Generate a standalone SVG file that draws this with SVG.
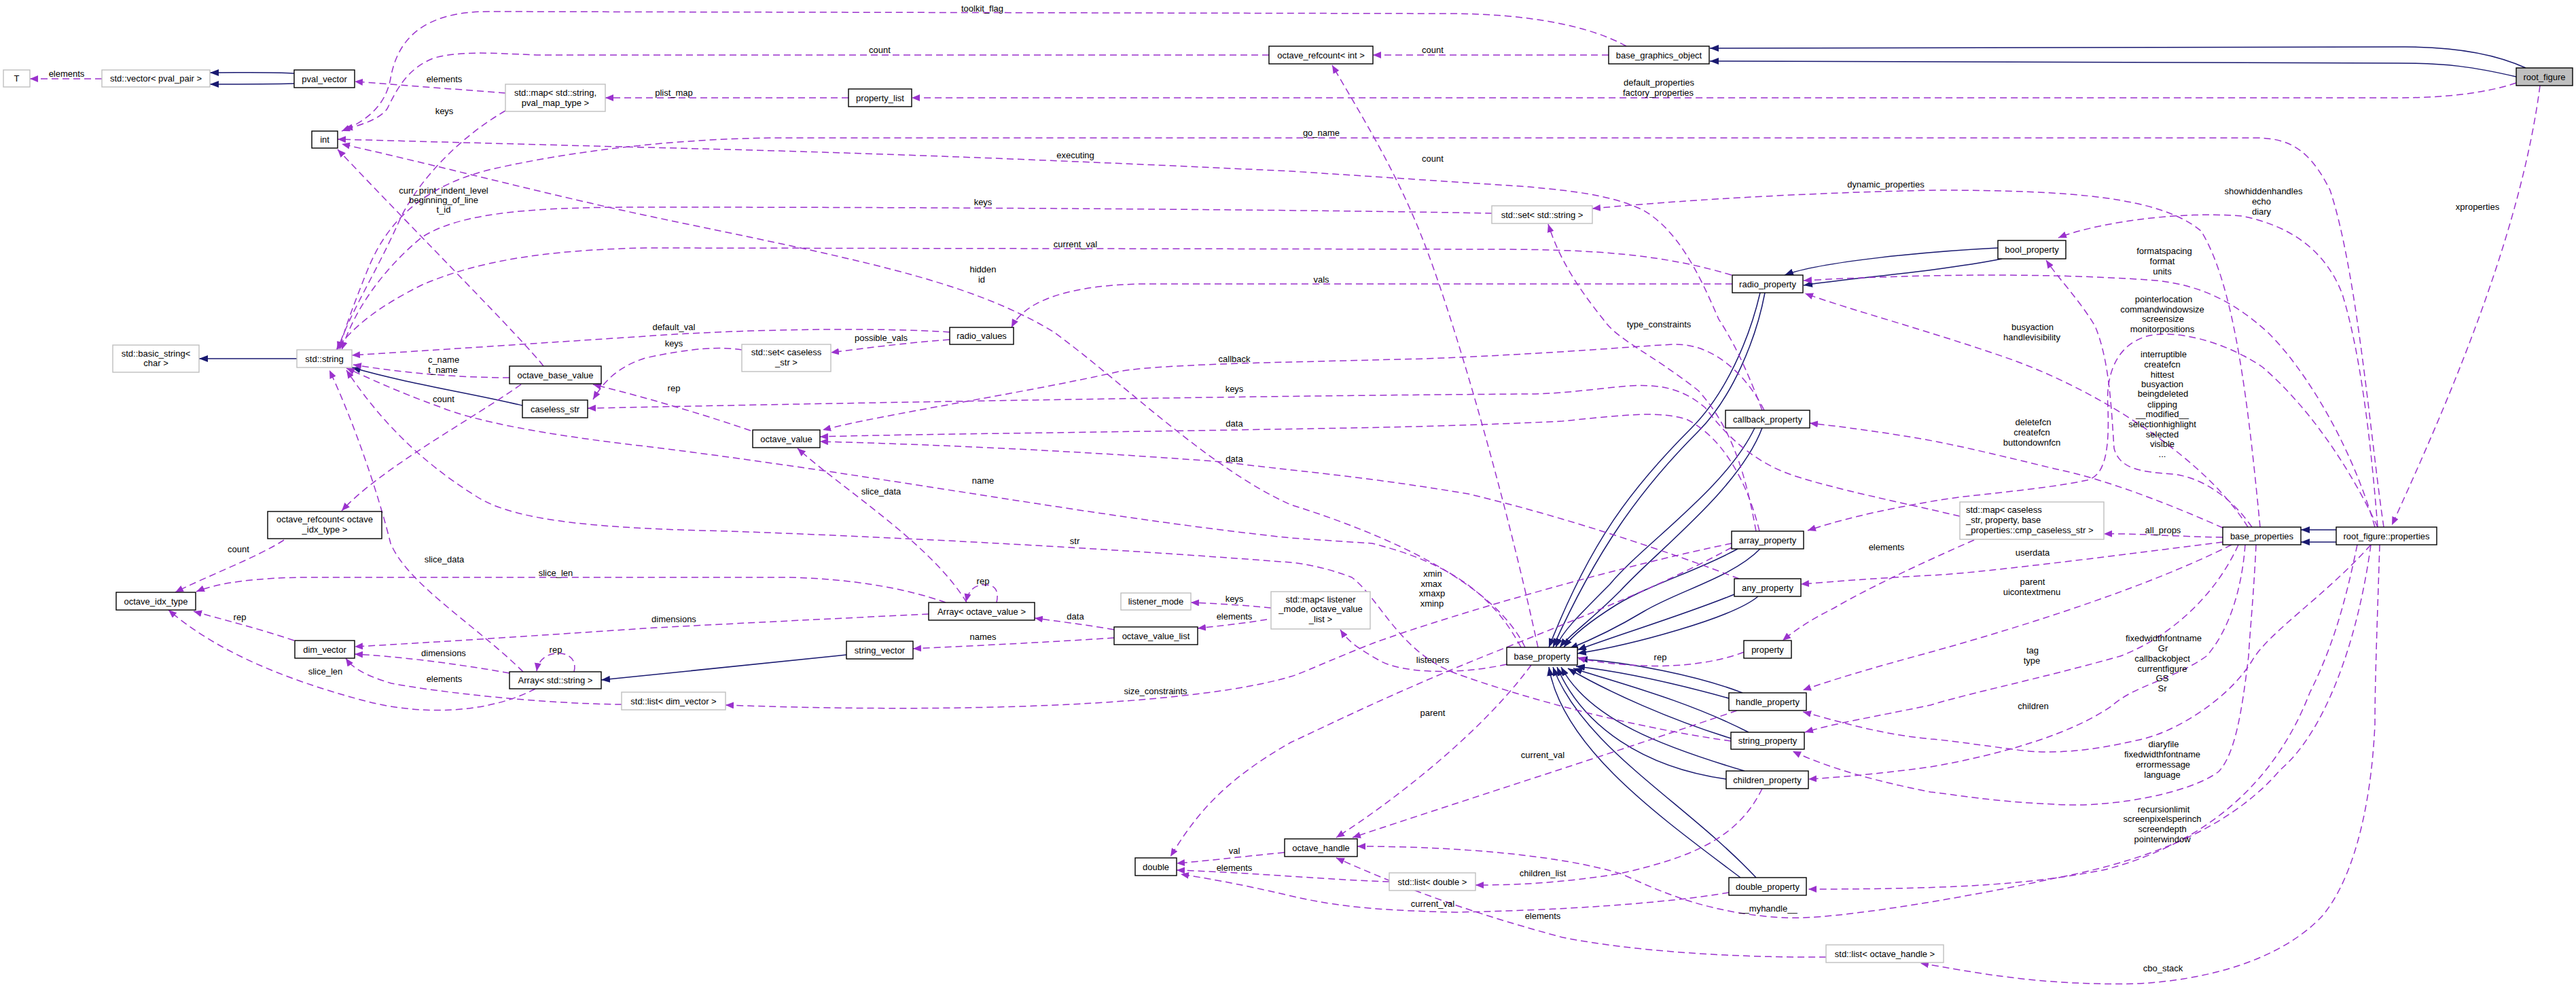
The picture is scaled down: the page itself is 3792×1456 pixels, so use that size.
<svg xmlns="http://www.w3.org/2000/svg" width="3792" height="1456" viewBox="0 0 3792 1456">
<style>
.n rect{fill:#fff;stroke:#000;stroke-width:1.4}
.g rect{fill:#fff;stroke:#bfbfbf;stroke-width:1.4}
text{font-family:"Liberation Sans",Arial,sans-serif;font-size:13px;fill:#000}
.n text,.g text,.lb text{text-anchor:middle}
.u{fill:none;stroke:#9a32cd;stroke-width:1.5;stroke-dasharray:10,6;marker-end:url(#pa)}
.i{fill:none;stroke:#191970;stroke-width:1.5;marker-end:url(#na)}
</style>
<defs>
<marker id="pa" viewBox="0 0 12 10" refX="12" refY="5" markerWidth="12" markerHeight="10" orient="auto" markerUnits="userSpaceOnUse"><path d="M0,0 L12,5 L0,10 z" fill="#9a32cd"/></marker>
<marker id="na" viewBox="0 0 13 10" refX="13" refY="5" markerWidth="13" markerHeight="10" orient="auto" markerUnits="userSpaceOnUse"><path d="M0,0 L13,5 L0,10 z" fill="#191970"/></marker>
</defs>
<rect width="3792" height="1456" fill="#fff"/>
<g id="connectors">
<path class="i" d="M3718,100 C3670,78 3610,69 3540,69 L2517,71"/>
<path class="i" d="M3704,113 C3640,98 3600,93 3530,93 L2517,90"/>
<path class="i" d="M433,108 C400,106 360,107 309,107"/>
<path class="i" d="M433,123 C400,124 360,124 309,124"/>
<path class="i" d="M437,528 L293,528"/>
<path class="i" d="M769,597 C700,580 600,565 518,541"/>
<path class="i" d="M1246,964 C1100,980 950,995 885,1001"/>
<path class="i" d="M2941,365 C2840,370 2680,385 2627,405"/>
<path class="i" d="M2947,381 C2850,400 2720,410 2655,420"/>
<path class="i" d="M2591,431 C2575,500 2540,580 2490,630 C2400,720 2340,800 2280,953"/>
<path class="i" d="M2598,431 C2585,500 2550,585 2500,635 C2415,720 2350,810 2286,953"/>
<path class="i" d="M2583,630 C2540,720 2420,800 2370,860 C2320,910 2300,930 2290,953"/>
<path class="i" d="M2594,630 C2560,720 2440,810 2385,870 C2340,915 2310,935 2296,953"/>
<path class="i" d="M2558,808 C2500,840 2430,860 2380,890 C2340,915 2315,935 2302,953"/>
<path class="i" d="M2591,808 C2550,850 2470,870 2420,900 C2370,930 2335,945 2310,955"/>
<path class="i" d="M2553,875 C2480,905 2380,935 2322,957"/>
<path class="i" d="M2588,878 C2550,910 2400,950 2322,962"/>
<path class="i" d="M2565,1020 C2500,995 2400,975 2324,970"/>
<path class="i" d="M2545,1028 C2480,1010 2400,990 2320,981"/>
<path class="i" d="M2574,1078 C2480,1030 2380,1005 2316,984"/>
<path class="i" d="M2548,1087 C2460,1060 2370,1020 2308,984"/>
<path class="i" d="M2568,1135 C2450,1100 2340,1060 2298,982"/>
<path class="i" d="M2541,1147 C2420,1130 2330,1070 2292,982"/>
<path class="i" d="M2585,1292 C2480,1180 2330,1100 2286,982"/>
<path class="i" d="M2562,1292 C2440,1200 2300,1100 2280,982"/>
<path class="i" d="M3439,780 L3387,780"/>
<path class="i" d="M3439,798 L3387,798"/>
<path class="u" d="M2394,68 C2340,38 2250,20 2130,20 L720,17 C620,17 585,60 575,115 C568,155 540,178 503,193"/>
<path class="u" d="M1868,81 L790,81 C720,78 680,75 640,85 C600,100 585,130 570,160 C560,175 530,185 507,190"/>
<path class="u" d="M2368,81 L2021,81"/>
<path class="u" d="M150,116 L44,116"/>
<path class="u" d="M744,137 L522,120"/>
<path class="u" d="M1249,144 L891,144"/>
<path class="u" d="M3704,122 C3660,137 3600,144 3530,144 L1342,144"/>
<path class="u" d="M744,163 C680,200 620,260 590,320 C555,400 515,460 497,515"/>
<path class="u" d="M3509,776 C3490,650 3470,400 3430,280 C3400,220 3370,203 3320,203 L1132,203 C1000,205 850,220 720,250 C600,280 560,350 540,400 C520,450 505,490 500,515"/>
<path class="u" d="M2594,604 C2570,540 2550,500 2530,470 C2500,400 2470,340 2420,310 C2370,285 2300,280 2250,275 L1900,252 C1600,238 1300,225 950,217 L497,205"/>
<path class="u" d="M2264,953 C2220,750 2150,500 2100,367 C2060,260 2010,180 1961,96"/>
<path class="u" d="M800,539 C770,500 620,350 497,220"/>
<path class="u" d="M3327,776 C3310,600 3290,420 3240,340 C3180,290 3050,280 2850,280 C2600,285 2420,300 2344,307"/>
<path class="u" d="M3500,776 C3490,650 3475,520 3448,433 C3420,360 3360,330 3300,318 C3200,310 3080,330 3030,350"/>
<path class="u" d="M2196,314 C2000,310 1500,305 950,305 C800,305 680,310 620,350 C560,400 520,460 503,515"/>
<path class="u" d="M2549,405 C2450,375 2350,367 2200,367 L950,365 C800,368 700,385 620,420 C560,450 520,480 495,515"/>
<path class="u" d="M3496,776 C3460,650 3390,540 3339,490 C3290,445 3240,420 3175,413 C3000,400 2800,405 2655,413"/>
<path class="u" d="M2245,953 C2200,860 2050,790 1900,743 C1780,690 1650,560 1550,488 C1420,410 1250,380 950,317 C800,285 650,245 503,212"/>
<path class="u" d="M2550,418 L1680,418 C1580,420 1510,440 1489,482"/>
<path class="u" d="M2585,782 C2570,700 2550,630 2500,575 C2430,520 2380,500 2360,470 C2320,420 2295,380 2279,330"/>
<path class="u" d="M1398,489 C1300,482 1100,484 950,495 C750,508 600,518 518,523"/>
<path class="u" d="M1398,500 C1330,505 1270,513 1223,519"/>
<path class="u" d="M1092,515 C1060,510 1020,512 950,527 C910,540 890,560 873,588"/>
<path class="u" d="M750,556 C680,556 600,550 520,537"/>
<path class="u" d="M1105,634 C1050,615 960,587 873,566"/>
<path class="u" d="M2885,760 C2800,740 2700,720 2640,700 C2580,680 2540,640 2510,600 C2480,575 2450,565 2400,568 C2350,572 2300,580 2250,580 C1900,582 1300,592 865,601"/>
<path class="u" d="M2597,604 C2570,550 2520,505 2464,507 C2400,510 2300,520 2100,528 L1900,533 C1800,535 1680,540 1647,547 C1500,580 1300,610 1211,633"/>
<path class="u" d="M2590,782 C2570,700 2530,640 2482,617 C2440,605 2400,610 2300,620 C2100,630 1900,631 1817,633 C1500,638 1300,640 1207,643"/>
<path class="u" d="M2560,852 C2450,810 2300,760 2161,727 C2000,700 1900,693 1800,680 C1600,665 1400,655 1207,650"/>
<path class="u" d="M2239,953 C2200,880 2140,830 2020,800 L1900,792 C1600,760 1300,700 950,657 C800,640 700,620 650,600 C580,575 540,555 510,542"/>
<path class="u" d="M2548,1091 C2400,1070 2250,1030 2142,991 C2060,960 2030,880 1990,850 C1950,835 1920,830 1900,828 C1600,805 1300,790 1071,782 C900,778 760,770 700,730 C620,680 560,620 510,545"/>
<path class="u" d="M1423,887 C1370,800 1240,720 1174,660"/>
<path class="u" d="M1467,887 C1472,865 1460,860 1447,861 C1432,862 1425,872 1422,886"/>
<path class="u" d="M1367,904 C1200,912 1000,922 950,925 C800,935 650,945 522,952"/>
<path class="u" d="M1392,887 C1330,865 1250,852 1162,850 L455,850 C380,850 320,858 289,871"/>
<path class="u" d="M788,1014 C720,1050 620,1055 530,1030 C420,1000 320,960 248,898"/>
<path class="u" d="M433,943 C380,925 320,910 285,900"/>
<path class="u" d="M418,795 C380,820 300,850 258,872"/>
<path class="u" d="M767,566 C690,620 560,690 503,752"/>
<path class="u" d="M750,991 C660,975 580,966 522,963"/>
<path class="u" d="M770,989 C700,920 600,860 575,800 C555,720 520,620 485,545"/>
<path class="u" d="M845,989 C850,970 835,960 818,962 C800,964 792,975 790,988"/>
<path class="u" d="M915,1037 C800,1036 650,1020 576,1006 C540,995 520,985 509,969"/>
<path class="u" d="M1640,939 C1550,945 1450,950 1344,955"/>
<path class="u" d="M1640,927 C1600,920 1560,915 1523,910"/>
<path class="u" d="M1871,895 C1820,890 1780,888 1753,887"/>
<path class="u" d="M1865,912 C1830,918 1790,922 1763,925"/>
<path class="u" d="M2218,978 C2140,995 2060,990 2030,972 C2000,955 1985,945 1973,927"/>
<path class="u" d="M2549,800 C2400,830 2150,900 2021,947 C1950,975 1920,990 1900,996 C1750,1040 1400,1050 1068,1038"/>
<path class="u" d="M2549,806 C2450,860 2350,900 2200,960 C2050,1020 1950,1070 1900,1093 C1800,1150 1760,1200 1723,1261"/>
<path class="u" d="M2567,960 C2520,978 2460,982 2420,980 C2370,978 2340,973 2322,968"/>
<path class="u" d="M2906,795 C2860,815 2760,860 2700,895 C2660,915 2640,930 2624,943"/>
<path class="u" d="M3272,791 C3200,790 3150,785 3097,786"/>
<path class="u" d="M3272,798 C3100,820 2900,845 2842,847 C2750,852 2700,856 2651,860"/>
<path class="u" d="M3309,776 C3250,680 3100,580 2963,530 C2850,490 2720,455 2657,432"/>
<path class="u" d="M3315,776 C3290,740 3250,705 3200,698 C3150,695 3120,690 3112,660 C3108,600 3105,530 3084,480 C3060,440 3030,410 3012,383"/>
<path class="u" d="M3500,776 C3460,690 3400,600 3330,540 C3270,500 3200,485 3160,495 C3110,510 3100,560 3103,600 C3105,660 3100,700 3072,707 C3000,722 2900,728 2850,737 C2760,752 2700,768 2661,781"/>
<path class="u" d="M3272,777 C3200,745 3100,705 3024,690 C2950,672 2900,660 2850,650 C2780,637 2710,628 2664,623"/>
<path class="u" d="M3285,802 C3150,870 2950,930 2842,960 C2750,985 2700,1000 2654,1016"/>
<path class="u" d="M3295,802 C3260,880 3190,940 3121,966 C3000,1000 2900,1020 2842,1038 C2760,1055 2700,1065 2657,1078"/>
<path class="u" d="M3305,802 C3300,870 3280,930 3248,966 C3200,1000 3140,1010 3109,1039 C3050,1080 2950,1110 2842,1129 C2760,1140 2700,1145 2662,1147"/>
<path class="u" d="M3490,802 C3420,880 3340,930 3315,973 C3280,1030 3200,1080 3145,1090 C3080,1105 3020,1112 2963,1103 C2900,1095 2870,1090 2842,1088 C2760,1080 2700,1060 2654,1048"/>
<path class="u" d="M3321,802 C3318,870 3312,930 3310,966 C3300,1050 3290,1110 3266,1136 C3220,1170 3100,1190 3024,1184 C2930,1180 2880,1170 2842,1166 C2760,1150 2690,1130 2639,1106"/>
<path class="u" d="M3470,802 C3450,900 3430,960 3400,1020 C3350,1150 3250,1240 3100,1280 C3000,1300 2900,1309 2662,1309"/>
<path class="u" d="M3490,802 C3470,950 3420,1080 3357,1133 C3300,1200 3200,1260 3024,1293 C2900,1320 2700,1355 2627,1351 C2500,1345 2420,1300 2385,1286 C2300,1260 2150,1246 1998,1246"/>
<path class="u" d="M3503,802 C3500,900 3496,1000 3496,1066 C3490,1200 3460,1300 3418,1349 C3370,1400 3280,1440 3150,1448 C3000,1452 2900,1430 2827,1418"/>
<path class="u" d="M3739,126 C3710,350 3600,600 3521,773"/>
<path class="u" d="M2254,979 C2180,1080 2050,1180 1967,1233"/>
<path class="u" d="M2557,1046 C2400,1100 2150,1180 1991,1233"/>
<path class="u" d="M2594,1161 C2560,1230 2500,1260 2385,1286 C2300,1300 2230,1303 2172,1303"/>
<path class="u" d="M2545,1314 C2450,1330 2300,1340 2142,1343 C2000,1340 1950,1330 1900,1319 C1820,1300 1770,1292 1738,1287"/>
<path class="u" d="M2045,1298 C1950,1295 1850,1285 1732,1281"/>
<path class="u" d="M1891,1255 C1820,1262 1770,1268 1732,1271"/>
<path class="u" d="M2688,1409 C2550,1410 2400,1400 2300,1380 C2150,1340 2050,1300 1967,1263"/>
</g>
<g id="labels" class="lb">
<text x="1446" y="17">toolkit_flag</text>
<text x="1295" y="78">count</text>
<text x="2109" y="78">count</text>
<text x="98" y="113">elements</text>
<text x="654" y="121">elements</text>
<text x="992" y="141">plist_map</text>
<text x="2442" y="126">default_properties</text>
<text x="2441" y="141">factory_properties</text>
<text x="654" y="168">keys</text>
<text x="1945" y="200">go_name</text>
<text x="1583" y="233">executing</text>
<text x="2109" y="238">count</text>
<text x="653" y="285">curr_print_indent_level</text>
<text x="653" y="299">beginning_of_line</text>
<text x="653" y="313">t_id</text>
<text x="2776" y="276">dynamic_properties</text>
<text x="3332" y="286">showhiddenhandles</text>
<text x="3329" y="301">echo</text>
<text x="3329" y="316">diary</text>
<text x="1447" y="302">keys</text>
<text x="1583" y="364">current_val</text>
<text x="3186" y="374">formatspacing</text>
<text x="3183" y="389">format</text>
<text x="3183" y="404">units</text>
<text x="1447" y="401">hidden</text>
<text x="1445" y="416">id</text>
<text x="1945" y="416">vals</text>
<text x="3185" y="445">pointerlocation</text>
<text x="3183" y="460">commandwindowsize</text>
<text x="3184" y="474">screensize</text>
<text x="3183" y="489">monitorpositions</text>
<text x="2992" y="486">busyaction</text>
<text x="2991" y="501">handlevisibility</text>
<text x="2442" y="482">type_constraints</text>
<text x="992" y="486">default_val</text>
<text x="1297" y="502">possible_vals</text>
<text x="992" y="510">keys</text>
<text x="653" y="534">c_name</text>
<text x="652" y="549">t_name</text>
<text x="3185" y="526">interruptible</text>
<text x="3183" y="541">createfcn</text>
<text x="3183" y="556">hittest</text>
<text x="3183" y="570">busyaction</text>
<text x="3184" y="584">beingdeleted</text>
<text x="3183" y="600">clipping</text>
<text x="3183" y="614">__modified__</text>
<text x="3183" y="629">selectionhighlight</text>
<text x="3183" y="644">selected</text>
<text x="3183" y="658">visible</text>
<text x="3183" y="673">...</text>
<text x="1817" y="533">callback</text>
<text x="992" y="576">rep</text>
<text x="1817" y="577">keys</text>
<text x="653" y="592">count</text>
<text x="2993" y="626">deletefcn</text>
<text x="2991" y="641">createfcn</text>
<text x="2991" y="656">buttondownfcn</text>
<text x="1817" y="628">data</text>
<text x="1817" y="680">data</text>
<text x="1447" y="712">name</text>
<text x="1297" y="728">slice_data</text>
<text x="3184" y="785">all_props</text>
<text x="1582" y="801">str</text>
<text x="2777" y="810">elements</text>
<text x="351" y="813">count</text>
<text x="2992" y="818">userdata</text>
<text x="654" y="828">slice_data</text>
<text x="1701" y="1022">size_constraints</text>
<text x="2109" y="849">xmin</text>
<text x="2107" y="864">xmax</text>
<text x="2108" y="878">xmaxp</text>
<text x="2108" y="893">xminp</text>
<text x="818" y="848">slice_len</text>
<text x="1447" y="860">rep</text>
<text x="2992" y="861">parent</text>
<text x="2991" y="876">uicontextmenu</text>
<text x="1817" y="886">keys</text>
<text x="353" y="913">rep</text>
<text x="1583" y="912">data</text>
<text x="1817" y="912">elements</text>
<text x="992" y="916">dimensions</text>
<text x="1447" y="942">names</text>
<text x="3185" y="944">fixedwidthfontname</text>
<text x="3184" y="959">Gr</text>
<text x="3183" y="974">callbackobject</text>
<text x="3183" y="989">currentfigure</text>
<text x="3183" y="1003">GS</text>
<text x="3183" y="1018">Sr</text>
<text x="2444" y="972">rep</text>
<text x="2109" y="976">listeners</text>
<text x="2992" y="962">tag</text>
<text x="2991" y="977">type</text>
<text x="818" y="961">rep</text>
<text x="653" y="966">dimensions</text>
<text x="479" y="993">slice_len</text>
<text x="654" y="1004">elements</text>
<text x="2993" y="1044">children</text>
<text x="2109" y="1054">parent</text>
<text x="3185" y="1100">diaryfile</text>
<text x="3183" y="1115">fixedwidthfontname</text>
<text x="3184" y="1130">errormessage</text>
<text x="3183" y="1145">language</text>
<text x="2271" y="1116">current_val</text>
<text x="3185" y="1196">recursionlimit</text>
<text x="3183" y="1210">screenpixelsperinch</text>
<text x="3183" y="1225">screendepth</text>
<text x="3183" y="1240">pointerwindow</text>
<text x="1817" y="1257">val</text>
<text x="1817" y="1282">elements</text>
<text x="2271" y="1290">children_list</text>
<text x="2109" y="1335">current_val</text>
<text x="2603" y="1342">__myhandle__</text>
<text x="2271" y="1353">elements</text>
<text x="3184" y="1430">cbo_stack</text>
<text x="3647" y="309">xproperties</text>
</g>
<g id="n_T" class="g"><rect x="5" y="103" width="39" height="25"/><text x="24.5" y="120">T</text></g>
<g id="n_vec" class="g"><rect x="150" y="103" width="159" height="25"/><text x="229.5" y="120">std::vector&lt; pval_pair &gt;</text></g>
<g id="n_pvalvec" class="n"><rect x="433" y="103" width="89" height="26"/><text x="477.5" y="120.5">pval_vector</text></g>
<g id="n_pvmap" class="g"><rect x="744" y="124" width="147" height="40"/><text x="817.5" y="140.5">std::map&lt; std::string,</text><text x="817.5" y="155.5">pval_map_type &gt;</text></g>
<g id="n_int" class="n"><rect x="459" y="193" width="38" height="25"/><text x="478" y="210">int</text></g>
<g id="n_plist" class="n"><rect x="1249" y="131" width="93" height="26"/><text x="1295.5" y="148.5">property_list</text></g>
<g id="n_refint" class="n"><rect x="1868" y="68" width="153" height="26"/><text x="1944.5" y="85.5">octave_refcount&lt; int &gt;</text></g>
<g id="n_bgo" class="n"><rect x="2368" y="68" width="148" height="26"/><text x="2442" y="85.5">base_graphics_object</text></g>
<g id="n_root" class="n"><rect x="3704" y="100" width="83" height="26" style="fill:#bfbfbf"/><text x="3745.5" y="117.5">root_figure</text></g>
<g id="n_setstr" class="g"><rect x="2196" y="303" width="148" height="26"/><text x="2270" y="320.5">std::set&lt; std::string &gt;</text></g>
<g id="n_radio" class="n"><rect x="2550" y="405" width="104" height="26"/><text x="2602" y="422.5">radio_property</text></g>
<g id="n_bool" class="n"><rect x="2941" y="354" width="100" height="27"/><text x="2991" y="372">bool_property</text></g>
<g id="n_bstr" class="g"><rect x="166" y="508" width="127" height="40"/><text x="229.5" y="524.5">std::basic_string&lt;</text><text x="229.5" y="539">char &gt;</text></g>
<g id="n_str" class="g"><rect x="437" y="515" width="81" height="26"/><text x="477.5" y="532.5">std::string</text></g>
<g id="n_obv" class="n"><rect x="750" y="539" width="135" height="26"/><text x="817.5" y="556.5">octave_base_value</text></g>
<g id="n_cstr" class="n"><rect x="769" y="589" width="96" height="26"/><text x="817" y="606.5">caseless_str</text></g>
<g id="n_refidx" class="n"><rect x="394" y="753" width="168" height="40"/><text x="478" y="769">octave_refcount&lt; octave</text><text x="478" y="784">_idx_type &gt;</text></g>
<g id="n_idx" class="n"><rect x="171" y="872" width="117" height="26"/><text x="229.5" y="889.5">octave_idx_type</text></g>
<g id="n_dimv" class="n"><rect x="434" y="943" width="88" height="26"/><text x="478" y="960.5">dim_vector</text></g>
<g id="n_rv" class="n"><rect x="1398" y="482" width="94" height="25"/><text x="1445" y="499">radio_values</text></g>
<g id="n_setcs" class="g"><rect x="1092" y="507" width="131" height="40"/><text x="1157.5" y="523">std::set&lt; caseless</text><text x="1157.5" y="537.5">_str &gt;</text></g>
<g id="n_ov" class="n"><rect x="1108" y="633" width="99" height="26"/><text x="1157.5" y="650.5">octave_value</text></g>
<g id="n_aov" class="n"><rect x="1367" y="887" width="156" height="26"/><text x="1445" y="904.5">Array&lt; octave_value &gt;</text></g>
<g id="n_lm" class="g"><rect x="1650" y="873" width="103" height="25"/><text x="1701.5" y="890">listener_mode</text></g>
<g id="n_ovl" class="n"><rect x="1640" y="923" width="123" height="26"/><text x="1701.5" y="940.5">octave_value_list</text></g>
<g id="n_sv" class="n"><rect x="1246" y="944" width="98" height="26"/><text x="1295" y="961.5">string_vector</text></g>
<g id="n_lmap" class="g"><rect x="1871" y="871" width="146" height="55"/><text x="1944" y="886.5">std::map&lt; listener</text><text x="1944" y="901">_mode, octave_value</text><text x="1944" y="915.5">_list &gt;</text></g>
<g id="n_cb" class="n"><rect x="2540" y="604" width="124" height="26"/><text x="2602" y="621.5">callback_property</text></g>
<g id="n_arr" class="n"><rect x="2549" y="782" width="106" height="26"/><text x="2602" y="799.5">array_property</text></g>
<g id="n_any" class="n"><rect x="2553" y="852" width="98" height="26"/><text x="2602" y="869.5">any_property</text></g>
<g id="n_prop" class="n"><rect x="2567" y="943" width="70" height="26"/><text x="2602" y="960.5">property</text></g>
<g id="n_bp" class="n"><rect x="2218" y="953" width="104" height="26"/><text x="2270" y="970.5">base_property</text></g>
<g id="n_csmap" class="g"><rect x="2885" y="739" width="212" height="55"/><text x="2894" y="755" style="text-anchor:start">std::map&lt; caseless</text><text x="2894" y="770" style="text-anchor:start">_str, property, base</text><text x="2894" y="785" style="text-anchor:start">_properties::cmp_caseless_str &gt;</text></g>
<g id="n_bps" class="n"><rect x="3272" y="776" width="115" height="26"/><text x="3329.5" y="793.5">base_properties</text></g>
<g id="n_rfp" class="n"><rect x="3439" y="776" width="148" height="26"/><text x="3513" y="793.5">root_figure::properties</text></g>
<g id="n_ldv" class="g"><rect x="915" y="1019" width="153" height="26"/><text x="991.5" y="1036.5">std::list&lt; dim_vector &gt;</text></g>
<g id="n_astr" class="n"><rect x="750" y="989" width="135" height="25"/><text x="817.5" y="1006">Array&lt; std::string &gt;</text></g>
<g id="n_double" class="n"><rect x="1671" y="1263" width="61" height="26"/><text x="1701.5" y="1280.5">double</text></g>
<g id="n_oh" class="n"><rect x="1891" y="1235" width="107" height="26"/><text x="1944.5" y="1252.5">octave_handle</text></g>
<g id="n_hp" class="n"><rect x="2545" y="1020" width="114" height="26"/><text x="2602" y="1037.5">handle_property</text></g>
<g id="n_sp" class="n"><rect x="2548" y="1078" width="108" height="25"/><text x="2602" y="1095">string_property</text></g>
<g id="n_chp" class="n"><rect x="2541" y="1135" width="121" height="26"/><text x="2601.5" y="1152.5">children_property</text></g>
<g id="n_ld" class="g"><rect x="2045" y="1285" width="127" height="26"/><text x="2108.5" y="1302.5">std::list&lt; double &gt;</text></g>
<g id="n_dp" class="n"><rect x="2545" y="1292" width="114" height="26"/><text x="2602" y="1309.5">double_property</text></g>
<g id="n_loh" class="g"><rect x="2688" y="1391" width="173" height="26"/><text x="2774.5" y="1408.5">std::list&lt; octave_handle &gt;</text></g>
</svg>
